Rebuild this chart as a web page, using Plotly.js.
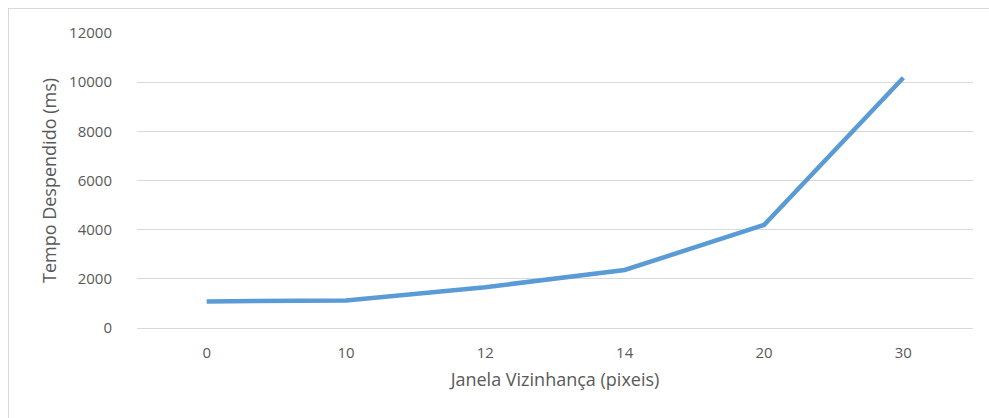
<!DOCTYPE html>
<html>
<head>
<meta charset="utf-8">
<script src="https://cdn.plot.ly/plotly-3.0.1.min.js"></script>
<style>
  html, body { margin: 0; padding: 0; background: #fff; }
  #frame { position: absolute; left: 8px; top: 8px; width: 1000px; height: 420px;
           border-left: 1px solid #d9d9d9; border-top: 1px solid #d9d9d9; pointer-events: none; }
  #chart { width: 989px; height: 418px; }
</style>
</head>
<body>
<div id="chart"></div>
<div id="frame"></div>
<script>
// Neighbourhood window sizes (pixels) and elapsed time (ms)
const windowSizes = ['0', '10', '12', '14', '20', '30'];
const elapsedMs = [1080, 1120, 1660, 2360, 4190, 10180];

const trace = {
  x: windowSizes,
  y: elapsedMs,
  type: 'scatter',
  mode: 'lines',
  line: { color: '#5B9BD5', width: 4.5 },
  hoverinfo: 'x+y'
};

const fontFamily = '"Open Sans", sans-serif';

const layout = {
  width: 989,
  height: 418,
  margin: { l: 137, r: 16, t: 33, b: 90 },
  paper_bgcolor: '#ffffff',
  plot_bgcolor: '#ffffff',
  showlegend: false,
  font: { family: fontFamily, color: '#595959', size: 15 },
  xaxis: {
    type: 'category',
    range: [-0.5, 5.5],
    showgrid: false,
    zeroline: false,
    showline: false,
    ticks: '',
    ticklabelstandoff: 14,
    tickfont: { family: fontFamily, size: 15, color: '#595959' },
    title: { text: 'Janela Vizinhança (pixeis)', font: { family: fontFamily, size: 18, color: '#595959' }, standoff: 12 }
  },
  yaxis: {
    range: [0, 12000],
    dtick: 2000,
    tickformat: 'd',
    exponentformat: 'none',
    showgrid: true,
    gridcolor: '#d9d9d9',
    gridwidth: 1,
    zeroline: true,
    zerolinecolor: '#d9d9d9',
    zerolinewidth: 1,
    showline: false,
    ticks: '',
    ticklabelstandoff: 24,
    tickfont: { family: fontFamily, size: 15, color: '#595959' },
    title: { text: 'Tempo Despendido (ms)', font: { family: fontFamily, size: 18, color: '#595959' }, standoff: 7 }
  }
};

Plotly.newPlot('chart', [trace], layout, { displayModeBar: false, staticPlot: true });
</script>
</body>
</html>
